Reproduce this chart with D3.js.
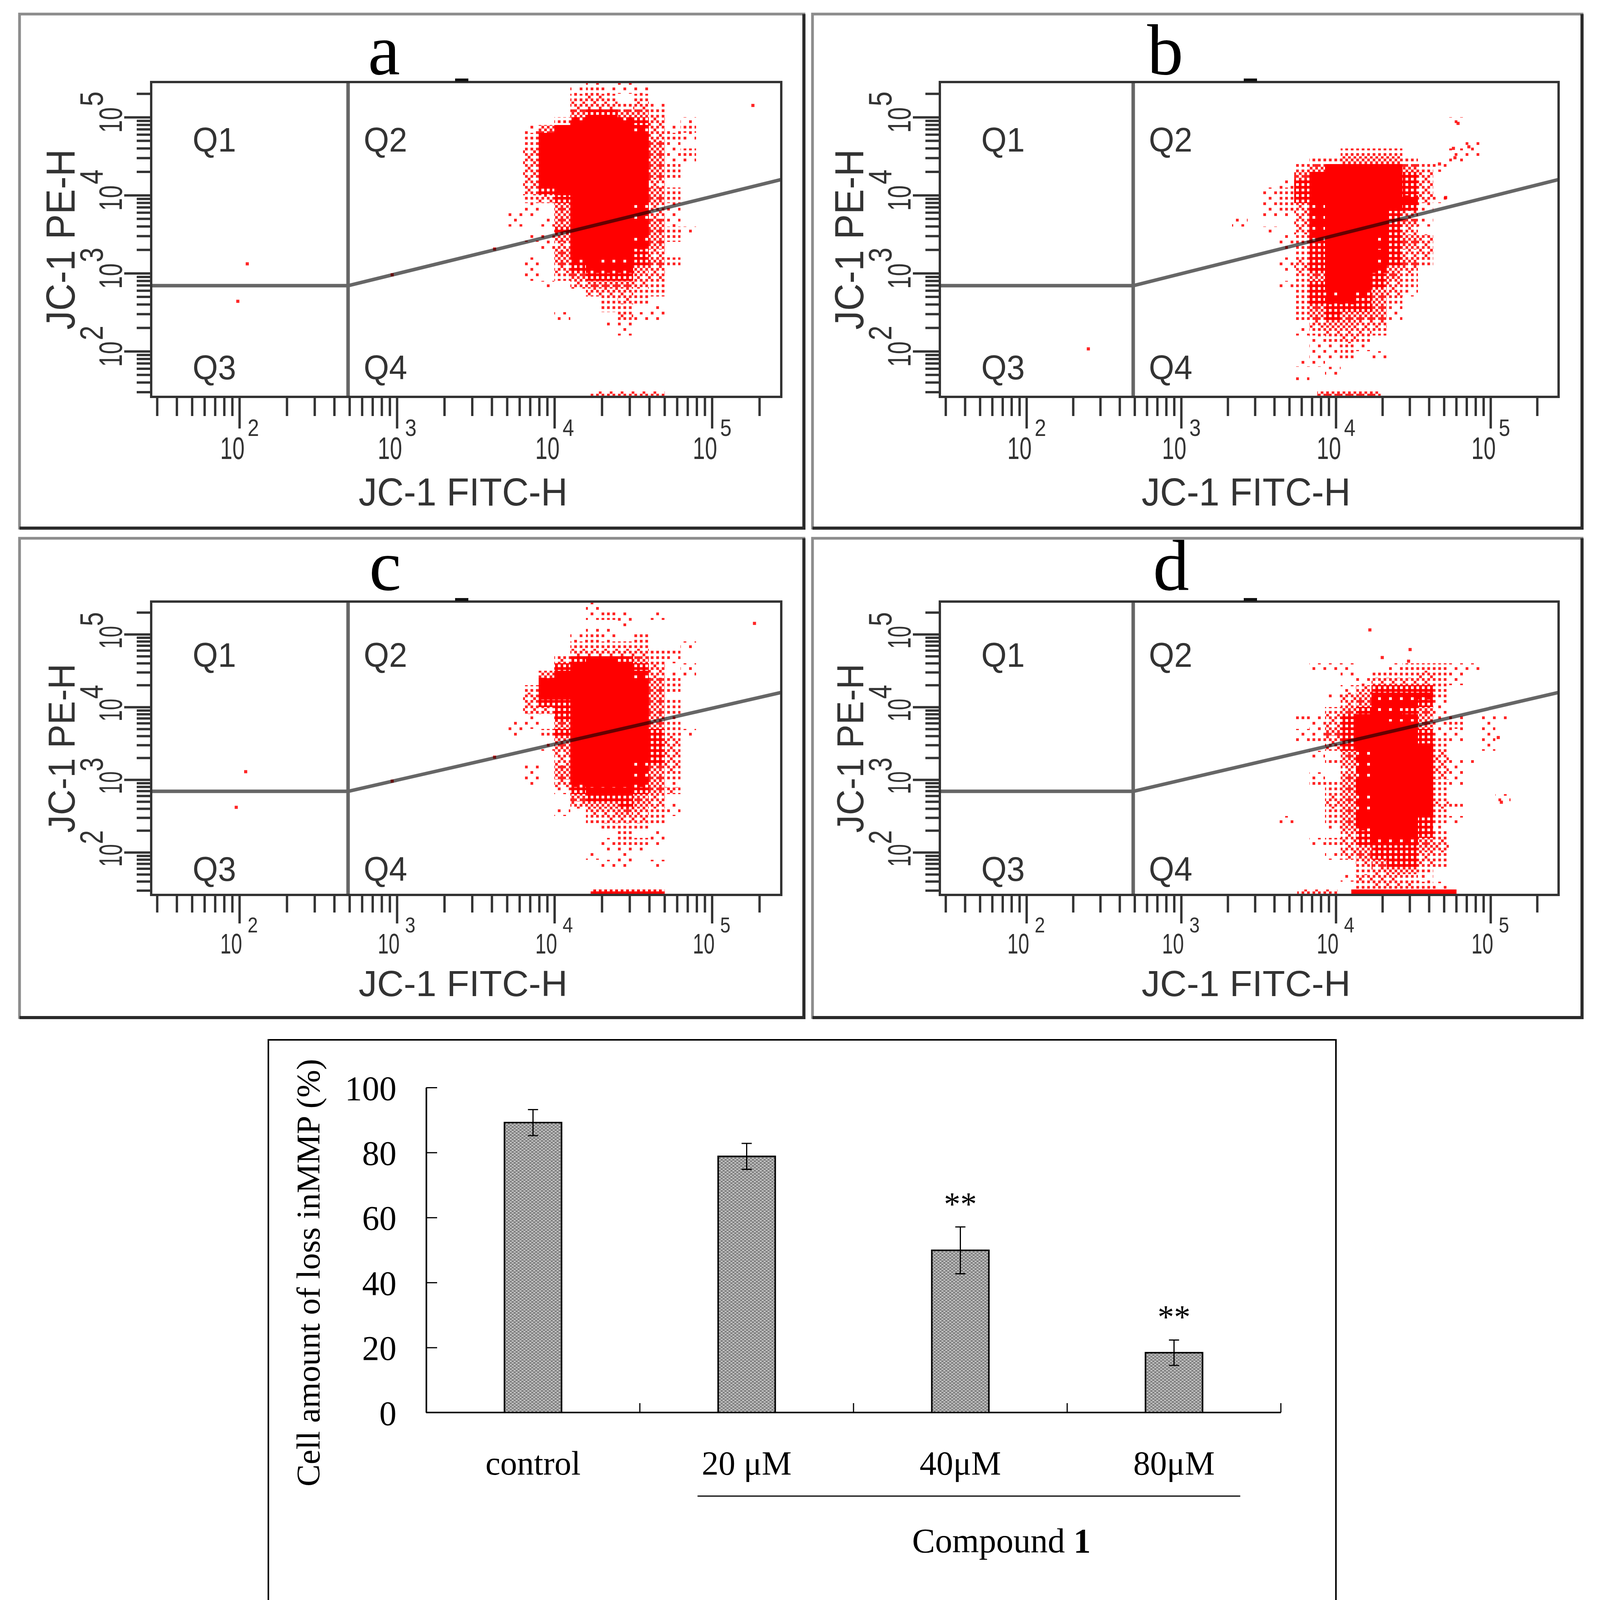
<!DOCTYPE html>
<html>
<head>
<meta charset="utf-8">
<script src="https://cdn.jsdelivr.net/npm/d3@7"></script>
<style>
  body { margin: 0; background: #fff; }
  text { font-family: "Liberation Sans", Arial, sans-serif; }
  .serif { font-family: "Liberation Serif", "Times New Roman", serif; }
</style>
</head>
<body>
<div id="chart"></div>
<script>
// ---- flow cytometry data (JC-1) ----
// each grid row is one 0.1-decade band of PE-H (top row first),
// each digit one 0.1-decade band of FITC-H: 0 = empty ... 9 = solid red
var originA = [3.6, 5.4];
var densityA = [
  "00000010100000", "00000121110000", "00000232020000", "00000333231000",
  "00000455442000", "00002688653010", "00147899963120", "00279999973210",
  "00289999974100", "00399999984120", "00399999984110", "00389999974200",
  "00389999974200", "00389999973000", "00357999974200", "00235899974200",
  "00104799963100", "01104899963100", "01014899984100", "00005899874210",
  "00114899864200", "00013788864000", "00004777753000", "00104676654200",
  "00103566643000", "00102455533000", "00010344432000", "00000033322000",
  "00000002320000", "00000002201000", "00001000311000", "00000001100000",
  "00000000100000"
];
var outliersA = [[5.26, 5.15], [2.05, 3.12], [1.99, 2.64], [2.97, 2.98], [3.62, 3.31]];
var floorA = [[4.23, 4.70, 3]];

var originB = [3.33, 4.9];
var densityB = [
  "0000000000000010", "0000000000000000", "0000000000000000", "0000000000000001",
  "0000000222200011", "0000022444420010", "0000246898642100", "0000489999853000",
  "0001589999853000", "0012589999953000", "0012589999963100", "0012369999851000",
  "0011369998530000", "1000369998541000", "0010369997530000", "0001269986543000",
  "0001259986543000", "0000258987533000", "0001357886542000", "0001357886430000",
  "0000247875420000", "0001257875320000", "0000256764310000", "0000256654200000",
  "0000245554100000", "0000245444100000", "0000034433000000", "0000123332000000",
  "0000012320000000", "0000011210000000", "0000011201000000", "0000110000000000",
  "0000001000000000", "0000100000000000"
];
var outliersB = [[4.79, 4.92], [4.86, 4.62], [4.76, 4.60], [4.77, 4.48], [4.67, 4.40], [4.71, 3.97], [2.40, 2.03]];
var floorB = [[3.88, 4.29, 4]];

var originC = [3.6, 5.4];
var densityC = [
  "00000010000000", "00000010000000", "00000012101000", "00000000100000",
  "00000011000000", "00000121020000", "00000222220010", "00000333332200",
  "00003566542100", "00005788753010", "00047999863110", "00069999964200",
  "00279999974200", "00379999984000", "00355899984200", "00335899984200",
  "00105899984100", "01104899984200", "01025899985210", "00004899885300",
  "00014899875300", "00003799875300", "00003788865300", "00104788764300",
  "00104787764200", "00103677764100", "00001566654300", "00000455543000",
  "00000344543100", "00001033432100", "00000023332000", "00000002220000",
  "00000000201000", "00000001221000", "00000001110000", "00000010100000",
  "00000001101000"
];
var outliersC = [[5.27, 5.15], [2.04, 3.11], [1.98, 2.62], [2.97, 2.98], [3.62, 3.31]];
var floorC = [[4.23, 4.70, 5]];

var originD = [3.53, 4.5];
var densityD = [
  "0001110012221100", "0000010222321000", "0000001333321000", "0000013555520000",
  "0000134666620000", "0000034666510000", "0000245665410000", "0021357766411011",
  "0001357777412010", "0011457888511010", "0012357999521010", "0000357999720010",
  "0001046999830000", "0000246999831100", "0000036999831000", "0001046999831000",
  "0002248999821000", "0000247999820000", "0000346999820001", "0000346999832000",
  "0000246998720000", "0100247887521000", "0000146887510000", "0000035787520000",
  "0001235666430000", "0000034555430000", "0000134555320000", "0000003455320000",
  "0000002344200000", "0000013332100000", "0000002333210000"
];
var outliersD = [[4.22, 5.06], [4.48, 4.79], [4.30, 4.68], [4.47, 4.63], [5.07, 2.69], [5.05, 3.58]];
var floorD = [[3.75, 4.01, 3], [4.10, 4.78, 9]];

// quadrant gate (log10 units): vertical split, low corner, right end of slanted line
var gateX = 2.69;
var gateY = 2.84;
var gateEndY = 4.20;
var decadeExponents = [2, 3, 4, 5];
var quadrantNames = ["Q1", "Q2", "Q3", "Q4"];

// ---- bar chart data ----
var barCategories = ["control", "20 \u03bcM", "40\u03bcM", "80\u03bcM"];
var barMeans = [89.2, 78.8, 49.9, 18.4];
var barErrors = [4.0, 4.0, 7.2, 3.9];
var barMarks = ["", "", "**", "**"];
var barTicks = [0, 20, 40, 60, 80, 100];

// ---- page ----
var svgWidth = 4097;
var svgHeight = 4179;
var svg = d3.select("#chart").append("svg")
  .attr("width", svgWidth)
  .attr("height", svgHeight);

var defs = svg.append("defs");
var pat = defs.append("pattern")
  .attr("id", "stipple")
  .attr("width", 10).attr("height", 8)
  .attr("patternUnits", "userSpaceOnUse");
pat.append("rect").attr("width", 10).attr("height", 8).attr("fill", "#878787");
pat.append("rect").attr("x", 0).attr("y", 0).attr("width", 5).attr("height", 2).attr("fill", "#e0e0e0");
pat.append("rect").attr("x", 5).attr("y", 4).attr("width", 5).attr("height", 2).attr("fill", "#e0e0e0");

// dot fills for the density levels (ordered 4x4 dither, 7 px dots)
var bayer = [[0, 8, 2, 10], [12, 4, 14, 6], [3, 11, 1, 9], [15, 7, 13, 5]];
var dotsPerLevel = [0, 2, 4, 6, 9, 12, 15, 16, 16, 16];
var dotSize = 7;
dotsPerLevel.forEach(function(n, lvl) {
  if (lvl === 0 || n >= 16) return;
  var dp = defs.append("pattern")
    .attr("id", "dens" + lvl)
    .attr("width", dotSize * 4).attr("height", dotSize * 4)
    .attr("patternUnits", "userSpaceOnUse");
  for (var r = 0; r < 4; r++) {
    for (var c = 0; c < 4; c++) {
      if (bayer[r][c] < n) {
        dp.append("rect")
          .attr("x", c * dotSize).attr("y", r * dotSize)
          .attr("width", dotSize).attr("height", dotSize)
          .attr("fill", "#ff0000")
          .attr("fill-opacity", n >= 12 ? 1 : 0.85)
          .attr("shape-rendering", "crispEdges");
      }
    }
  }
});
var densFill = function(lvl) { return dotsPerLevel[lvl] >= 16 ? "#ff0000" : "url(#dens" + lvl + ")"; };

var rows = [
  { letterBase: 190, qTop: 388, qBot: 971, xLab: 1175, xSup: 1116, xTitle: 1294,
    labSize: 80, supSize: 62, yLabDown: 40, yLabLen: 65, ySupUp: 28, ySupLen: 38,
    titleSize: 100, yTitleSize: 104, yTitleLen: 462, minorLen: 49, majorLen: 81 },
  { letterBase: 1510, qTop: 1707, qBot: 2255, xLab: 2441, xSup: 2387, xTitle: 2550,
    labSize: 72, supSize: 56, yLabDown: 37, yLabLen: 58, ySupUp: 21, ySupLen: 36,
    titleSize: 92, yTitleSize: 96, yTitleLen: 433, minorLen: 45, majorLen: 73 }
];

var panels = [
  { letter: "a", letterX: 983, grid: densityA, origin: originA, outliers: outliersA, floor: floorA,
    x0: 387, x1: 2000, y0: 210, y1: 1016, frame: [50, 36, 2058, 1352], row: rows[0] },
  { letter: "b", letterX: 2983, grid: densityB, origin: originB, outliers: outliersB, floor: floorB,
    x0: 2406, x1: 3990, y0: 210, y1: 1016, frame: [2080, 36, 4050, 1352], row: rows[0] },
  { letter: "c", letterX: 986, grid: densityC, origin: originC, outliers: outliersC, floor: floorC,
    x0: 387, x1: 2000, y0: 1540, y1: 2291, frame: [50, 1378, 2058, 2605], row: rows[1] },
  { letter: "d", letterX: 2998, grid: densityD, origin: originD, outliers: outliersD, floor: floorD,
    x0: 2406, x1: 3990, y0: 1540, y1: 2291, frame: [2080, 1378, 4050, 2605], row: rows[1] }
];

var p10 = function(v) { return Math.pow(10, v); };

panels.forEach(function(p, pi) {
  var r = p.row;
  var g = svg.append("g");
  var x = d3.scaleLog().domain([p10(1.44), p10(5.44)]).range([p.x0, p.x1]);
  var y = d3.scaleLog().domain([p10(1.415), p10(5.45)]).range([p.y1, p.y0]);

  // outer frame
  var f = p.frame;
  g.append("rect")
    .attr("x", f[0]).attr("y", f[1])
    .attr("width", f[2] - f[0]).attr("height", f[3] - f[1])
    .attr("fill", "#fff").attr("stroke", "#8c8c8c").attr("stroke-width", 7);
  g.append("path")
    .attr("d", "M" + f[2] + "," + f[1] + "V" + f[3] + "H" + f[0])
    .attr("fill", "none").attr("stroke", "#2b2b2b").attr("stroke-width", 8);

  g.append("text").attr("class", "serif")
    .attr("x", p.letterX).attr("y", r.letterBase)
    .attr("text-anchor", "middle")
    .attr("font-size", 185).attr("fill", "#000")
    .text(p.letter);

  var clipId = "clip" + pi;
  defs.append("clipPath").attr("id", clipId)
    .append("rect").attr("x", p.x0).attr("y", p.y0)
    .attr("width", p.x1 - p.x0).attr("height", p.y1 - p.y0);
  var plot = g.append("g").attr("clip-path", "url(#" + clipId + ")");

  // density cells
  var cells = [];
  p.grid.forEach(function(row, i) {
    row.split("").forEach(function(ch, j) {
      var d = +ch;
      if (d > 0) cells.push({ L: p.origin[0] + j * 0.1, M: p.origin[1] - i * 0.1, d: d });
    });
  });
  plot.selectAll("rect.cell")
    .data(cells)
    .enter()
    .append("rect")
    .attr("class", "cell")
    .attr("x", function(d) { return x(p10(d.L)); })
    .attr("width", function(d) { return x(p10(d.L + 0.1)) - x(p10(d.L)); })
    .attr("y", function(d) { return y(p10(d.M + 0.1)); })
    .attr("height", function(d) { return y(p10(d.M)) - y(p10(d.M + 0.1)); })
    .attr("fill", function(d) { return densFill(d.d); })
    .attr("shape-rendering", "crispEdges");

  // single events
  plot.selectAll("rect.ev")
    .data(p.outliers)
    .enter()
    .append("rect")
    .attr("class", "ev")
    .attr("x", function(d) { return x(p10(d[0])) - 4; })
    .attr("y", function(d) { return y(p10(d[1])) - 4; })
    .attr("width", 8).attr("height", 8)
    .attr("fill", "#ff0000").attr("fill-opacity", 0.85);

  // events piled on the bottom edge
  plot.selectAll("rect.floor")
    .data(p.floor)
    .enter()
    .append("rect")
    .attr("class", "floor")
    .attr("x", function(d) { return x(p10(d[0])); })
    .attr("width", function(d) { return x(p10(d[1])) - x(p10(d[0])); })
    .attr("y", p.y1 - 14).attr("height", 14)
    .attr("fill", function(d) { return densFill(d[2]); });

  // quadrant gate
  var gx = x(p10(gateX));
  var gy = y(p10(gateY));
  var gate = g.append("g")
    .attr("fill", "none").attr("stroke", "#666").attr("stroke-width", 9)
    .style("mix-blend-mode", "multiply");
  gate.append("line").attr("x1", gx).attr("x2", gx).attr("y1", p.y0).attr("y2", p.y1);
  gate.append("line").attr("x1", p.x0).attr("x2", gx).attr("y1", gy).attr("y2", gy);
  gate.append("line").attr("x1", gx).attr("y1", gy)
    .attr("x2", p.x1).attr("y2", y(p10(gateEndY)));

  // plot box
  g.append("rect")
    .attr("x", p.x0).attr("y", p.y0)
    .attr("width", p.x1 - p.x0).attr("height", p.y1 - p.y0)
    .attr("fill", "none").attr("stroke", "#333").attr("stroke-width", 6);
  g.append("rect")
    .attr("x", p.x0 + 778).attr("y", p.y0 - 9)
    .attr("width", 34).attr("height", 8).attr("fill", "#111");

  // quadrant names
  var qPos = [[p.x0 + 106, r.qTop], [gx + 40, r.qTop], [p.x0 + 106, r.qBot], [gx + 40, r.qBot]];
  g.selectAll("text.q")
    .data(quadrantNames)
    .enter()
    .append("text")
    .attr("class", "q")
    .attr("transform", function(d, i) { return "translate(" + qPos[i][0] + "," + qPos[i][1] + ") scale(0.95,1)"; })
    .attr("font-size", 88).attr("fill", "#333")
    .text(function(d) { return d; });

  // axes: log ticks, decades longer
  var decades = decadeExponents.map(p10);
  var minorX = x.ticks().filter(function(v) { return decades.indexOf(v) < 0; });
  var minorY = y.ticks().filter(function(v) { return decades.indexOf(v) < 0; });
  var styleAxis = function(sel) {
    sel.select(".domain").remove();
    sel.selectAll("line").attr("stroke", "#333").attr("stroke-width", 6);
  };
  g.append("g").attr("transform", "translate(0," + p.y1 + ")")
    .call(d3.axisBottom(x).tickValues(minorX).tickSize(r.minorLen).tickFormat(""))
    .call(styleAxis);
  g.append("g").attr("transform", "translate(0," + p.y1 + ")")
    .call(d3.axisBottom(x).tickValues(decades).tickSize(r.majorLen).tickFormat(""))
    .call(styleAxis);
  g.append("g").attr("transform", "translate(" + p.x0 + ",0)")
    .call(d3.axisLeft(y).tickValues(minorY).tickSize(37).tickFormat(""))
    .call(styleAxis);
  g.append("g").attr("transform", "translate(" + p.x0 + ",0)")
    .call(d3.axisLeft(y).tickValues(decades).tickSize(69).tickFormat(""))
    .call(styleAxis);

  // x decade labels 10^n (narrow, as in the cytometer export)
  var xl = g.selectAll("g.xl").data(decadeExponents).enter().append("g").attr("class", "xl");
  xl.append("text")
    .attr("transform", function(d) { return "translate(" + (x(p10(d)) - 49) + "," + r.xLab + ") scale(0.7,1)"; })
    .attr("font-size", r.labSize).attr("fill", "#333")
    .text("10");
  xl.append("text")
    .attr("transform", function(d) { return "translate(" + (x(p10(d)) + 21) + "," + r.xSup + ") scale(0.85,1)"; })
    .attr("font-size", r.supSize).attr("fill", "#333")
    .text(function(d) { return d; });

  // y decade labels, rotated
  var yl = g.selectAll("g.yl").data(decadeExponents).enter().append("g").attr("class", "yl");
  yl.append("text")
    .attr("transform", function(d) { return "translate(" + (p.x0 - 75) + "," + (y(p10(d)) + r.yLabDown) + ") rotate(-90) scale(" + (r.yLabLen / 93) + ",1)"; })
    .attr("font-size", 84).attr("fill", "#333")
    .text("10");
  yl.append("text")
    .attr("transform", function(d) { return "translate(" + (p.x0 - 124) + "," + (y(p10(d)) - r.ySupUp) + ") rotate(-90) scale(" + (r.ySupLen / 47) + ",1)"; })
    .attr("font-size", 84).attr("fill", "#333")
    .text(function(d) { return d; });

  // axis titles
  g.append("text")
    .attr("x", (p.x0 + p.x1) / 2 - 8).attr("y", r.xTitle)
    .attr("text-anchor", "middle")
    .attr("font-size", r.titleSize).attr("fill", "#333")
    .attr("textLength", 535).attr("lengthAdjust", "spacingAndGlyphs")
    .text("JC-1 FITC-H");
  g.append("text")
    .attr("transform", "translate(" + (p.x0 - 196) + "," + ((p.y0 + p.y1) / 2) + ") rotate(-90)")
    .attr("text-anchor", "middle")
    .attr("font-size", r.yTitleSize).attr("fill", "#333")
    .attr("textLength", r.yTitleLen).attr("lengthAdjust", "spacingAndGlyphs")
    .text("JC-1 PE-H");
});

// ---- bar chart ----
var bar = svg.append("g");
bar.append("rect")
  .attr("x", 687).attr("y", 2662).attr("width", 3420 - 687).attr("height", 4163 - 2662)
  .attr("fill", "#fff").attr("stroke", "#000").attr("stroke-width", 4);

var xb = d3.scaleBand().domain(barCategories).range([1091, 3279]);
var yb = d3.scaleLinear().domain([0, 100]).range([3616, 2784]);
var bw = xb.bandwidth();
var barWidth = bw * 0.267;

// y axis with inward ticks
bar.append("g").attr("transform", "translate(1091,0)")
  .call(d3.axisRight(yb).tickValues(barTicks).tickSize(28).tickSizeOuter(0).tickFormat(""))
  .call(function(sel) {
    sel.select(".domain").attr("stroke", "#000").attr("stroke-width", 4);
    sel.selectAll("line").attr("stroke", "#000").attr("stroke-width", 3);
  });
bar.selectAll("text.ytick")
  .data(barTicks)
  .enter()
  .append("text")
  .attr("class", "serif")
  .attr("x", 1015)
  .attr("y", function(d) { return yb(d); })
  .attr("dy", "0.36em")
  .attr("text-anchor", "end")
  .attr("font-size", 88)
  .text(function(d) { return d; });

// baseline and category separators
bar.append("line")
  .attr("x1", xb.range()[0]).attr("x2", xb.range()[1])
  .attr("y1", yb(0)).attr("y2", yb(0))
  .attr("stroke", "#000").attr("stroke-width", 4);
bar.selectAll("line.sep")
  .data(barCategories)
  .enter()
  .append("line")
  .attr("class", "sep")
  .attr("x1", function(d) { return xb(d) + bw; })
  .attr("x2", function(d) { return xb(d) + bw; })
  .attr("y1", yb(0)).attr("y2", yb(0) - 24)
  .attr("stroke", "#000").attr("stroke-width", 3);

// bars
bar.selectAll("rect.bar")
  .data(barMeans)
  .enter()
  .append("rect")
  .attr("class", "bar")
  .attr("x", function(d, i) { return xb(barCategories[i]) + bw / 2 - barWidth / 2; })
  .attr("width", barWidth)
  .attr("y", function(d) { return yb(d); })
  .attr("height", function(d) { return yb(0) - yb(d); })
  .attr("fill", "url(#stipple)")
  .attr("stroke", "#000").attr("stroke-width", 4);

// error bars
var eb = bar.selectAll("g.err")
  .data(barMeans)
  .enter()
  .append("g")
  .attr("class", "err")
  .attr("stroke", "#000").attr("stroke-width", 3);
var cx = function(i) { return xb(barCategories[i]) + bw / 2; };
eb.append("line")
  .attr("x1", function(d, i) { return cx(i); })
  .attr("x2", function(d, i) { return cx(i); })
  .attr("y1", function(d, i) { return yb(d + barErrors[i]); })
  .attr("y2", function(d, i) { return yb(d - barErrors[i]); });
eb.append("line")
  .attr("x1", function(d, i) { return cx(i) - 13; })
  .attr("x2", function(d, i) { return cx(i) + 13; })
  .attr("y1", function(d, i) { return yb(d + barErrors[i]); })
  .attr("y2", function(d, i) { return yb(d + barErrors[i]); });
eb.append("line")
  .attr("x1", function(d, i) { return cx(i) - 13; })
  .attr("x2", function(d, i) { return cx(i) + 13; })
  .attr("y1", function(d, i) { return yb(d - barErrors[i]); })
  .attr("y2", function(d, i) { return yb(d - barErrors[i]); });

// significance marks
bar.selectAll("text.sig")
  .data(barMarks)
  .enter()
  .append("text")
  .attr("class", "serif")
  .attr("x", function(d, i) { return cx(i); })
  .attr("y", function(d, i) { return yb(barMeans[i] + barErrors[i]) - 30; })
  .attr("text-anchor", "middle")
  .attr("font-size", 84)
  .text(function(d) { return d; });

// category labels
bar.selectAll("text.cat")
  .data(barCategories)
  .enter()
  .append("text")
  .attr("class", "serif")
  .attr("x", function(d, i) { return cx(i); })
  .attr("y", 3775)
  .attr("text-anchor", "middle")
  .attr("font-size", 86)
  .text(function(d) { return d; });

// treated group bracket and label
bar.append("line")
  .attr("x1", xb(barCategories[1]) + bw * 0.27)
  .attr("x2", xb(barCategories[3]) + bw * 0.81)
  .attr("y1", 3830).attr("y2", 3830)
  .attr("stroke", "#000").attr("stroke-width", 3);
var comp = bar.append("text")
  .attr("class", "serif")
  .attr("x", 2335).attr("y", 3974)
  .attr("font-size", 88);
comp.append("tspan").text("Compound ");
comp.append("tspan").attr("font-weight", "bold").text("1");

bar.append("text")
  .attr("class", "serif")
  .attr("transform", "translate(818,3258) rotate(-90)")
  .attr("text-anchor", "middle")
  .attr("font-size", 85)
  .text("Cell amount of loss inMMP (%)");
</script>
</body>
</html>
